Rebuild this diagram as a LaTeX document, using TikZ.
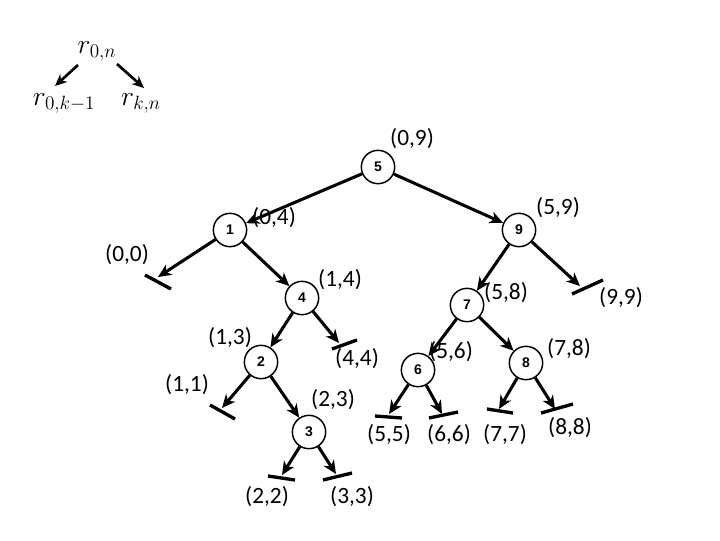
\documentclass[tikz,border=0pt]{standalone}
\usepackage{fontspec}
\setmainfont{Carlito}
\newfontfamily\numfont{Liberation Sans}
\usetikzlibrary{arrows.meta}
\tikzset{
  tn/.style={circle,draw,line width=1.1pt,minimum size=25pt,inner sep=0pt,font=\numfont\bfseries\fontsize{10.5}{12}\selectfont},
  lbl/.style={inner sep=0pt,font=\fontsize{17.5}{20}\selectfont},
  arr/.style={line width=2.3pt,-{Stealth[length=10pt,width=9pt,inset=3pt]}},
  bar/.style={line width=2.5pt},
  lg/.style={inner sep=0pt,font=\fontsize{21}{25}\selectfont}
}
\begin{document}
\begin{tikzpicture}[x=0.75pt,y=-0.75pt]
\useasboundingbox (0,0) rectangle (720,540);
% legend
\node[lg] (r0n) at (97,51) {$r_{0,n}$};
\node[lg] (r0k) at (64,103) {$r_{0,k-1}$};
\node[lg] (rkn) at (141,103) {$r_{k,n}$};
\coordinate (la1) at (78,65); \coordinate (la2) at (55,86);
\coordinate (lb1) at (117,64); \coordinate (lb2) at (144,88);
\draw[line width=2pt,-{Stealth[length=9pt,width=8pt,inset=3pt]}] (la1) -- (la2);
\draw[line width=2pt,-{Stealth[length=9pt,width=8pt,inset=3pt]}] (lb1) -- (lb2);
% tree nodes
\node[tn] (n5) at (378,167) {5};
\node[tn] (n1) at (230,230) {1};
\node[tn] (n9) at (519,230) {9};
\node[tn] (n4) at (302,298) {4};
\node[tn] (n7) at (467,305) {7};
\node[tn] (n2) at (261,362) {2};
\node[tn] (n6) at (418,370) {6};
\node[tn] (n8) at (526,363) {8};
\node[tn] (n3) at (309,432) {3};
% internal edges
\draw[arr] (n5) -- (n1);
\draw[arr] (n5) -- (n9);
\draw[arr] (n1) -- (n4);
\draw[arr] (n4) -- (n2);
\draw[arr] (n2) -- (n3);
\draw[arr] (n9) -- (n7);
\draw[arr] (n7) -- (n6);
\draw[arr] (n7) -- (n8);
% leaves: tip and bar ends
\coordinate (t00) at (158,277); \coordinate (a00) at (145,275); \coordinate (b00) at (171,289);
\coordinate (t44) at (339,343); \coordinate (a44) at (332,349); \coordinate (b44) at (357,340);
\coordinate (t11) at (222,408); \coordinate (a11) at (210,405); \coordinate (b11) at (235,419);
\coordinate (t22) at (282,475); \coordinate (a22) at (268,476); \coordinate (b22) at (295,480);
\coordinate (t33) at (336,474); \coordinate (a33) at (323,480); \coordinate (b33) at (352,473);
\coordinate (t99) at (580,286); \coordinate (a99) at (572,294); \coordinate (b99) at (603,280);
\coordinate (t55) at (389,414); \coordinate (a55) at (375,416); \coordinate (b55) at (402,418);
\coordinate (t66) at (442,414); \coordinate (a66) at (429,418); \coordinate (b66) at (458,412);
\coordinate (t77) at (499,409); \coordinate (a77) at (487,409); \coordinate (b77) at (513,413);
\coordinate (t88) at (555,409); \coordinate (a88) at (541,413); \coordinate (b88) at (573,404);
\draw[arr] (n1) -- (t00); \draw[bar] (a00) -- (b00);
\draw[arr] (n4) -- (t44); \draw[bar] (a44) -- (b44);
\draw[arr] (n2) -- (t11); \draw[bar] (a11) -- (b11);
\draw[arr] (n3) -- (t22); \draw[bar] (a22) -- (b22);
\draw[arr] (n3) -- (t33); \draw[bar] (a33) -- (b33);
\draw[arr] (n9) -- (t99); \draw[bar] (a99) -- (b99);
\draw[arr] (n6) -- (t55); \draw[bar] (a55) -- (b55);
\draw[arr] (n6) -- (t66); \draw[bar] (a66) -- (b66);
\draw[arr] (n8) -- (t77); \draw[bar] (a77) -- (b77);
\draw[arr] (n8) -- (t88); \draw[bar] (a88) -- (b88);
% labels
\node[lbl] (l09) at (412,139) {(0,9)};
\node[lbl] (l04) at (274,218) {(0,4)};
\node[lbl] (l59) at (558,208) {(5,9)};
\node[lbl] (l00) at (127,255) {(0,0)};
\node[lbl] (l14) at (340,280) {(1,4)};
\node[lbl] (l58) at (506,293) {(5,8)};
\node[lbl] (l99) at (621,298) {(9,9)};
\node[lbl] (l13) at (230,338) {(1,3)};
\node[lbl] (l44) at (357,359) {(4,4)};
\node[lbl] (l56) at (451,352) {(5,6)};
\node[lbl] (l78) at (569,349) {(7,8)};
\node[lbl] (l11) at (187,385) {(1,1)};
\node[lbl] (l23) at (333,400) {(2,3)};
\node[lbl] (l55) at (389,435) {(5,5)};
\node[lbl] (l66) at (449,435) {(6,6)};
\node[lbl] (l77) at (505,435) {(7,7)};
\node[lbl] (l88) at (570,428) {(8,8)};
\node[lbl] (l22) at (267,497) {(2,2)};
\node[lbl] (l33) at (352,497) {(3,3)};
\end{tikzpicture}
\end{document}
